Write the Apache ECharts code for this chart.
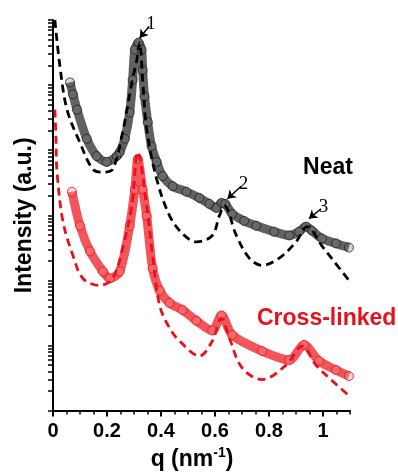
<!DOCTYPE html>
<html lang="en">
<head>
    <meta charset="UTF-8">
    <title>SAXS</title>
    <script src="https://cdn.jsdelivr.net/npm/echarts@6/dist/echarts.min.js"></script>
    <style>
        html, body { margin: 0; padding: 0; background: #fff; }
        #main { width: 398px; height: 476px; }
    </style>
</head>
<body>
    <div id="main"></div>
<script>
    // Neat - measured (circles)
    var qNeat = [0.063, 0.074, 0.089, 0.125, 0.162, 0.199, 0.236, 0.247, 0.266, 0.284, 0.295, 0.303, 0.317,
        0.328, 0.332, 0.339, 0.351, 0.365, 0.384, 0.406, 0.443, 0.494, 0.542, 0.579, 0.605, 0.624, 0.638,
        0.664, 0.708, 0.753, 0.819, 0.875, 0.911, 0.937, 0.959, 0.996, 1.048, 1.096];
    var iNeat = [1.1e5, 7.2e4, 4.2e4, 1.5e4, 8.1e3, 6.6e3, 8.1e3, 9.3e3, 1.5e4, 3.8e4, 1.2e5, 3.5e5, 4.5e5,
        3.5e5, 1.7e5, 6.7e4, 2.7e4, 1.15e4, 6.6e3, 4.0e3, 2.8e3, 2.3e3, 1.85e3, 1.5e3, 1.3e3, 1.55e3, 1.5e3,
        1.05e3, 820, 690, 560, 490, 560, 670, 580, 440, 370, 320];

    // Neat - fit (dashed)
    var qNeatFit = [0.007, 0.026, 0.052, 0.10, 0.148, 0.185, 0.221, 0.258, 0.292, 0.31, 0.321, 0.332, 0.347,
        0.384, 0.432, 0.48, 0.531, 0.59, 0.616, 0.635, 0.679, 0.727, 0.775, 0.838, 0.90, 0.941, 0.996, 1.048, 1.096];
    var iNeatFit = [1.0e6, 1.9e5, 4.2e4, 1.3e4, 5.1e3, 4.6e3, 5.1e3, 1.9e4, 1.1e5, 2.4e5, 4.5e5, 1.2e5, 2.1e4,
        3.6e3, 980, 520, 390, 490, 980, 1.4e3, 490, 220, 170, 220, 390, 670, 340, 180, 100];

    // Cross-linked - measured (circles)
    var qCross = [0.070, 0.10, 0.137, 0.185, 0.21, 0.247, 0.284, 0.303, 0.314, 0.332, 0.347, 0.369, 0.395,
        0.432, 0.48, 0.531, 0.59, 0.624, 0.664, 0.775, 0.875, 0.93, 0.985, 1.048, 1.096];
    var iCross = [2.3e3, 690, 280, 137, 107, 137, 690, 2.5e3, 7.3e3, 2.5e3, 980, 152, 70,
        45, 35, 24, 17, 29, 14.5, 8.2, 6.0, 10.2, 5.8, 4.2, 3.4];

    // Cross-linked - fit (dashed)
    var qCrossFit = [0.007, 0.011, 0.015, 0.037, 0.074, 0.111, 0.173, 0.221, 0.258, 0.292, 0.314, 0.347, 0.369,
        0.395, 0.432, 0.469, 0.542, 0.59, 0.624, 0.653, 0.701, 0.775, 0.863, 0.923, 0.974, 1.033, 1.103];
    var iCrossFit = [4.2e4, 1.5e4, 4.6e3, 800, 240, 107, 84, 107, 310, 1.4e3, 9.3e3, 1.4e3, 240,
        41, 18.5, 11.7, 6.9, 11.7, 26, 13, 4.5, 3.0, 5.0, 9.8, 5.0, 2.9, 1.6];

    // peak arrows: [label, tail q, tail I, head q, head I]
    var peakArrows = [
        ['1', 0.356, 8.0e5, 0.321, 5.3e5],
        ['2', 0.697, 2.8e3, 0.646, 1.8e3],
        ['3', 0.993, 1.26e3, 0.948, 890]
    ];

    var xLabels = [0, 0.2, 0.4, 0.6, 0.8, 1];

    function pairs(xs, ys) {
        return xs.map(function (x, i) { return [x, ys[i]]; });
    }

    var xMinor = [];
    for (var k = 0; k <= 22; k++) xMinor.push(+(k * 0.05).toFixed(2));

    var yTicks = [];
    for (var e = 0; e < 6; e++) {
        for (var m = 1; m <= 9; m++) yTicks.push(m * Math.pow(10, e));
    }
    yTicks.push(1e6);

    var font = 'Liberation Sans, Arial, sans-serif';

    var chart = echarts.init(document.getElementById('main'));

    var option = {
        animation: false,
        grid: { left: 53, right: 48, top: 20, bottom: 63, containLabel: false },
        xAxis: [{
            type: 'value', min: 0, max: 1.1,
            splitLine: { show: false },
            axisLine: { lineStyle: { color: '#000', width: 2 } },
            axisTick: { customValues: xLabels, length: 6, lineStyle: { color: '#000', width: 2 } },
            axisLabel: { customValues: xLabels, color: '#000', fontSize: 20, fontWeight: 'bold', fontFamily: font, margin: 11 },
            name: '{a|q (nm}{b|-1}{a|)}',
            nameLocation: 'middle',
            nameGap: 33,
            nameTextStyle: {
                padding: [0, 19, 0, 0],
                rich: {
                    a: { fontSize: 23, fontWeight: 'bold', color: '#000', fontFamily: font, lineHeight: 26 },
                    b: { fontSize: 14, fontWeight: 'bold', color: '#000', fontFamily: font, verticalAlign: 'top', lineHeight: 26 }
                }
            }
        }, {
            type: 'value', min: 0, max: 1.1, position: 'bottom',
            splitLine: { show: false },
            axisLine: { show: false },
            axisTick: { customValues: xMinor, length: 4, lineStyle: { color: '#000', width: 1.5 } },
            axisLabel: { show: false }
        }],
        yAxis: {
            type: 'log', logBase: 10, min: 1, max: 1e6,
            splitLine: { show: false },
            axisLine: { lineStyle: { color: '#000', width: 2 } },
            axisTick: { customValues: yTicks, length: 5, lineStyle: { color: '#000', width: 1.5 } },
            axisLabel: { show: false },
            name: 'Intensity (a.u.)',
            nameLocation: 'middle',
            nameGap: 17,
            nameTextStyle: { fontSize: 23, fontWeight: 'bold', color: '#000', fontFamily: font }
        },
        series: [{
            name: 'Neat',
            type: 'line',
            data: pairs(qNeat, iNeat),
            smooth: 0.3,
            symbol: 'circle',
            symbolSize: 9,
            itemStyle: { color: 'rgba(120,120,120,0.3)', borderColor: 'rgba(30,30,30,0.8)', borderWidth: 1 },
            lineStyle: { color: '#3a3a3a', width: 9, opacity: 0.8 },
            z: 2,
            markLine: {
                silent: true,
                symbol: ['none', 'arrow'],
                symbolSize: 8,
                lineStyle: { color: '#000', width: 1.5, type: 'solid' },
                label: {
                    position: 'start', distance: 3, formatter: '{b}',
                    color: '#000', fontSize: 19, fontFamily: 'Liberation Serif, Times New Roman, serif'
                },
                data: peakArrows.map(function (a) {
                    return [{ name: a[0], coord: [a[1], a[2]] }, { coord: [a[3], a[4]] }];
                })
            }
        }, {
            name: 'Cross-linked',
            type: 'line',
            data: pairs(qCross, iCross),
            smooth: 0.3,
            symbol: 'circle',
            symbolSize: 9,
            itemStyle: { color: 'rgba(255,140,140,0.35)', borderColor: 'rgba(232,22,31,0.85)', borderWidth: 1 },
            lineStyle: { color: '#ee1c25', width: 9, opacity: 0.75 },
            z: 2
        }, {
            name: 'Neat fit',
            type: 'line',
            data: pairs(qNeatFit, iNeatFit),
            smooth: 0.35,
            showSymbol: false,
            lineStyle: { color: '#000', width: 2.8, type: [8, 5] },
            z: 3
        }, {
            name: 'Cross-linked fit',
            type: 'line',
            data: pairs(qCrossFit, iCrossFit),
            smooth: 0.35,
            showSymbol: false,
            lineStyle: { color: '#e8101a', width: 2.8, type: [8, 5] },
            z: 3
        }],
        graphic: [{
            type: 'text',
            x: 328, y: 168,
            style: { text: 'Neat', fill: '#000', font: 'bold 23px ' + font, textAlign: 'center', textVerticalAlign: 'middle' }
        }, {
            type: 'text',
            x: 257, y: 319,
            style: { text: 'Cross-linked', fill: '#e8101a', font: 'bold 23px ' + font, textAlign: 'left', textVerticalAlign: 'middle' }
        }]
    };

    chart.setOption(option);
</script>
</body>
</html>
